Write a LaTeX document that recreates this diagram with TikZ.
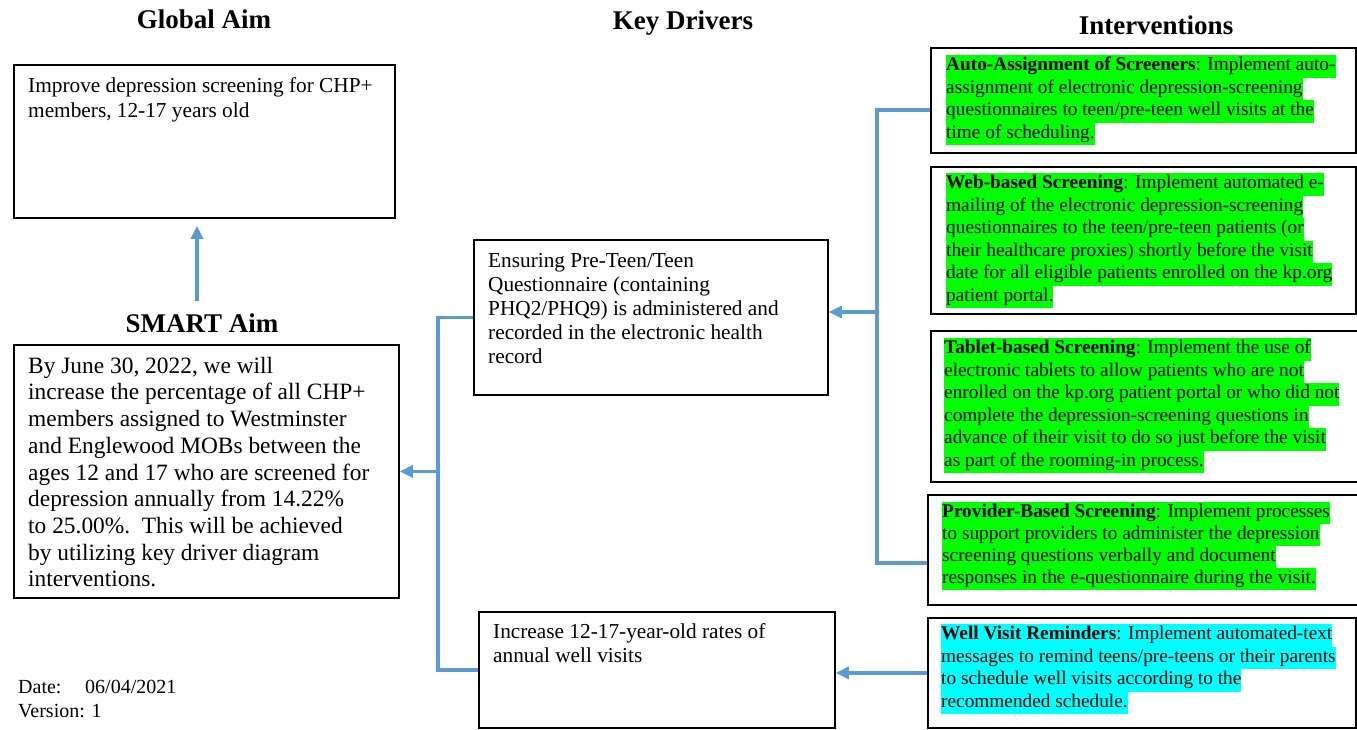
\documentclass[tikz,border=0pt]{standalone}
\usepackage{fontspec}
\setmainfont{Liberation Serif}
\usetikzlibrary{arrows.meta,calc}
\definecolor{hlgreen}{HTML}{00FF00}
\definecolor{hlcyan}{HTML}{00FFFF}
\definecolor{connblue}{HTML}{5B9BD5}
\newcommand\hlg[1]{{\setlength{\fboxsep}{0pt}\colorbox{hlgreen}{\strut #1}}}
\newcommand\hlc[1]{{\setlength{\fboxsep}{0pt}\colorbox{hlcyan}{\strut #1}}}
\begin{document}
\begin{tikzpicture}[x=1pt,y=-1pt,
  box/.style={draw=black, line width=1.8pt, anchor=north west, inner sep=0pt},
  txt/.style={anchor=north west, inner sep=0pt, align=left},
  head/.style={anchor=base, inner sep=0pt, font=\fontsize{27}{32}\selectfont\bfseries},
  intf/.style={font=\fontsize{19.3}{22.5}\selectfont},
  wire/.style={draw=connblue, line width=3.8pt, line join=miter},
  conn/.style={wire, -{Triangle[length=13pt,width=12pt]}}]
\useasboundingbox (0,0) rectangle (1357,729);
\fill[white] (0,0) rectangle (1357,729);

% headings
\node[head] (hga) at (204,28) {Global Aim};
\node[head] (hsm) at (202,332) {SMART Aim};
\node[head] (hkd) at (683,29) {Key Drivers};
\node[head] (hin) at (1156,34) {Interventions};

% boxes
\node[box, minimum width=381pt, minimum height=153pt] (ga) at (13,64) {};
\node[box, minimum width=385pt, minimum height=253pt] (smart) at (13,344) {};
\node[box, minimum width=354pt, minimum height=155pt] (kd1) at (473,239) {};
\node[box, minimum width=356pt, minimum height=116pt] (kd2) at (478,611) {};
\node[box, minimum width=425pt, minimum height=105pt] (i1) at (930,47) {};
\node[box, minimum width=425pt, minimum height=147pt] (i2) at (930,166) {};
\node[box, minimum width=432pt, minimum height=151pt] (i3) at (930,330) {};
\node[box, minimum width=435pt, minimum height=110pt] (i4) at (927,494) {};
\node[box, minimum width=428pt, minimum height=110pt] (i5) at (927,617) {};

% texts
\node[txt, font=\fontsize{21.3}{25}\selectfont] (gat) at (28,74.5)
  {\strut Improve depression screening for CHP+\\\strut members, 12-17 years old};
\node[txt, font=\fontsize{23.4}{26.7}\selectfont] (smt) at (28,354.3)
  {\strut By June 30, 2022, we will\\
   \strut increase the percentage of all CHP+\\
   \strut members assigned to Westminster\\
   \strut and Englewood MOBs between the\\
   \strut ages 12 and 17 who are screened for\\
   \strut depression annually from 14.22\%\\
   \strut to 25.00\%.\ \ This will be achieved\\
   \strut by utilizing key driver diagram\\
   \strut interventions.};
\node[txt, font=\fontsize{21.3}{24}\selectfont] (kd1t) at (488,250)
  {\strut Ensuring Pre-Teen/Teen\\
   \strut Questionnaire (containing\\
   \strut PHQ2/PHQ9) is administered and\\
   \strut recorded in the electronic health\\
   \strut record};
\node[txt, font=\fontsize{21.3}{24}\selectfont] (kd2t) at (493,621)
  {\strut Increase 12-17-year-old rates of\\
   \strut annual well visits};
\node[txt, font=\fontsize{20}{24}\selectfont] (date) at (18,676)
  {\strut\makebox[67pt][l]{Date:}06/04/2021\\
   \strut Version: 1};

\node[txt, intf] (i1t) at (946,55)
  {\hlg{\textbf{Auto-Assignment of Screeners}: Implement auto-}\\
   \hlg{assignment of electronic depression-screening}\\
   \hlg{questionnaires to teen/pre-teen well visits at the}\\
   \hlg{time of scheduling.}};
\node[txt, intf] (i2t) at (946,173)
  {\hlg{\textbf{Web-based Screening}: Implement automated e-}\\
   \hlg{mailing of the electronic depression-screening}\\
   \hlg{questionnaires to the teen/pre-teen patients (or}\\
   \hlg{their healthcare proxies) shortly before the visit}\\
   \hlg{date for all eligible patients enrolled on the kp.org}\\
   \hlg{patient portal.}};
\node[txt, intf] (i3t) at (944,338)
  {\hlg{\textbf{Tablet-based Screening}: Implement the use of}\\
   \hlg{electronic tablets to allow patients who are not}\\
   \hlg{enrolled on the kp.org patient portal or who did not}\\
   \hlg{complete the depression-screening questions in}\\
   \hlg{advance of their visit to do so just before the visit}\\
   \hlg{as part of the rooming-in process.}};
\node[txt, font=\fontsize{19.3}{22}\selectfont] (i4t) at (942,502)
  {\hlg{\textbf{Provider-Based Screening}: Implement processes}\\
   \hlg{to support providers to administer the depression}\\
   \hlg{screening questions verbally and document}\\
   \hlg{responses in the e-questionnaire during the visit.}};
\node[txt, intf] (i5t) at (941,624)
  {\hlc{\textbf{Well Visit Reminders}: Implement automated-text}\\
   \hlc{messages to remind teens/pre-teens or their parents}\\
   \hlc{to schedule well visits according to the}\\
   \hlc{recommended schedule.}};

% connectors
\coordinate (sa) at (197,301);
\draw[conn, shorten >=7pt] (sa) -- (sa |- ga.south);
\coordinate (j1) at ($(smart.east)+(38,0)$);
\draw[wire] (kd1.west) -| (j1);
\draw[wire] (kd2.west) -| (j1);
\draw[conn] (j1) -- (smart.east);
\coordinate (b1) at (877,110);
\coordinate (b2) at (877,563);
\coordinate (b3) at (877,312);
\draw[wire] (b1 -| i1.west) -- (b1) -- (b2) -- (b2 -| i4.west);
\draw[conn] (b3) -- (b3 -| kd1.east);
\draw[conn] (i5.west) -- (i5.west -| kd2.east);
\end{tikzpicture}
\end{document}
